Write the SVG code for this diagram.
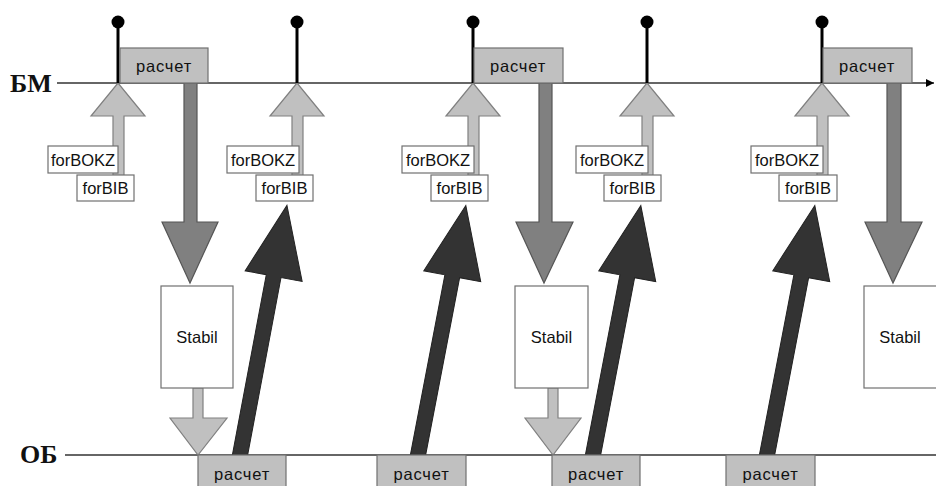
<svg xmlns="http://www.w3.org/2000/svg" width="936" height="486" viewBox="0 0 936 486">
<style>
.lbl{font-family:"Liberation Serif","Times New Roman",serif;font-weight:bold;font-size:26px;fill:#111}
.t{font-family:"Liberation Sans",Arial,sans-serif;font-size:16.5px;fill:#111;text-anchor:middle}
.r{letter-spacing:0.8px}
.calc{fill:#c0c0c0;stroke:#707070;stroke-width:1.2}
.wbox{fill:#fff;stroke:#707070;stroke-width:1.2}
.axis{stroke:#333;stroke-width:1.5;fill:none}
.pin{stroke:#000;stroke-width:3}
.dot{fill:#000}
.up{fill:#c0c0c0;stroke:#808080;stroke-width:1.2}
.down{fill:#808080;stroke:#555;stroke-width:1.2}
.blk{fill:#333;stroke:#222;stroke-width:1}
</style>
<defs>
<marker id="ah" viewBox="0 0 10 10" refX="10" refY="5" markerWidth="8" markerHeight="8" markerUnits="userSpaceOnUse" orient="auto"><path d="M0,0 L10,5 L0,10 z" fill="#000"/></marker>
<polygon id="blkArrow" class="blk" points="-7.5,2 -7.5,-182 -29,-182 0,-254 29,-182 7.5,-182 7.5,2"/>
</defs>
<rect width="936" height="486" fill="#fff"/>

<g id="axes">
<line class="axis" x1="57" y1="83" x2="934" y2="83" marker-end="url(#ah)"/>
<text class="lbl" x="10" y="92">БМ</text>
<line class="axis" x1="65" y1="455" x2="936" y2="455"/>
<text class="lbl" x="20" y="463">ОБ</text>
</g>

<g id="connectors">
<polygon class="up" points="113,180 113,116 91,116 118,83 145,116 124,116 124,180"/>
<polygon class="up" points="292,180 292,116 270,116 297,83 324,116 303,116 303,180"/>
<polygon class="up" points="468,180 468,116 446,116 473,83 500,116 479,116 479,180"/>
<polygon class="up" points="642,180 642,116 620,116 647,83 674,116 653,116 653,180"/>
<polygon class="up" points="817,180 817,116 795,116 822,83 849,116 828,116 828,180"/>
<polygon class="down" points="184,83 184,222 162,222 190,283 218,222 197,222 197,83"/>
<polygon class="down" points="539,83 539,222 516,222 544,283 573,222 552,222 552,83"/>
<polygon class="down" points="887,83 887,222 865,222 893,283 922,222 901,222 901,83"/>
<polygon class="up" points="193,388 193,418 170,418 198,455 227,418 203,418 203,388"/>
<polygon class="up" points="548,388 548,418 525,418 553,455 581,418 558,418 558,388"/>
<use href="#blkArrow" transform="translate(240,455) rotate(10.65)"/>
<use href="#blkArrow" transform="translate(418,455) rotate(10.85)"/>
<use href="#blkArrow" transform="translate(593,455) rotate(10.85)"/>
<use href="#blkArrow" transform="translate(767,455) rotate(10.85)"/>
</g>

<g id="pins">
<line class="pin" x1="118" y1="22" x2="118" y2="83"/><circle class="dot" cx="118" cy="22" r="6.5"/>
<line class="pin" x1="297" y1="22" x2="297" y2="83"/><circle class="dot" cx="297" cy="22" r="6.5"/>
<line class="pin" x1="473" y1="22" x2="473" y2="83"/><circle class="dot" cx="473" cy="22" r="6.5"/>
<line class="pin" x1="647" y1="22" x2="647" y2="83"/><circle class="dot" cx="647" cy="22" r="6.5"/>
<line class="pin" x1="822" y1="22" x2="822" y2="83"/><circle class="dot" cx="822" cy="22" r="6.5"/>
</g>

<g id="calc-top-1"><rect class="calc" x="120" y="48" width="88" height="35"/><text class="t r" x="164" y="72">расчет</text></g>
<g id="calc-top-2"><rect class="calc" x="474" y="48" width="89" height="35"/><text class="t r" x="518" y="72">расчет</text></g>
<g id="calc-top-3"><rect class="calc" x="823" y="48" width="89" height="35"/><text class="t r" x="867" y="72">расчет</text></g>

<g id="forBOKZ-1"><rect class="wbox" x="48" y="146" width="70" height="27"/><text class="t" x="83" y="166">forBOKZ</text></g>
<g id="forBIB-1"><rect class="wbox" x="77" y="175" width="57" height="26"/><text class="t" x="105.5" y="194">forBIB</text></g>
<g id="forBOKZ-2"><rect class="wbox" x="227" y="146" width="72" height="27"/><text class="t" x="263" y="166">forBOKZ</text></g>
<g id="forBIB-2"><rect class="wbox" x="256" y="175" width="57" height="26"/><text class="t" x="284.5" y="194">forBIB</text></g>
<g id="forBOKZ-3"><rect class="wbox" x="402" y="146" width="72" height="27"/><text class="t" x="438" y="166">forBOKZ</text></g>
<g id="forBIB-3"><rect class="wbox" x="431" y="175" width="57" height="26"/><text class="t" x="459.5" y="194">forBIB</text></g>
<g id="forBOKZ-4"><rect class="wbox" x="576" y="146" width="72" height="27"/><text class="t" x="612" y="166">forBOKZ</text></g>
<g id="forBIB-4"><rect class="wbox" x="604" y="175" width="57" height="26"/><text class="t" x="632.5" y="194">forBIB</text></g>
<g id="forBOKZ-5"><rect class="wbox" x="751" y="146" width="72" height="27"/><text class="t" x="787" y="166">forBOKZ</text></g>
<g id="forBIB-5"><rect class="wbox" x="779" y="175" width="58" height="26"/><text class="t" x="808" y="194">forBIB</text></g>

<g id="stabil-1"><rect class="wbox" x="161" y="286" width="72" height="102"/><text class="t" x="197" y="343">Stabil</text></g>
<g id="stabil-2"><rect class="wbox" x="515" y="286" width="73" height="102"/><text class="t" x="551.5" y="343">Stabil</text></g>
<g id="stabil-3"><rect class="wbox" x="864" y="286" width="76" height="102"/><text class="t" x="900" y="343">Stabil</text></g>

<g id="calc-bot-1"><rect class="calc" x="198" y="455" width="88" height="35"/><text class="t r" x="242" y="480">расчет</text></g>
<g id="calc-bot-2"><rect class="calc" x="377" y="455" width="89" height="35"/><text class="t r" x="421.5" y="480">расчет</text></g>
<g id="calc-bot-3"><rect class="calc" x="552" y="455" width="88" height="35"/><text class="t r" x="596" y="480">расчет</text></g>
<g id="calc-bot-4"><rect class="calc" x="726" y="455" width="89" height="35"/><text class="t r" x="770.5" y="480">расчет</text></g>
</svg>
